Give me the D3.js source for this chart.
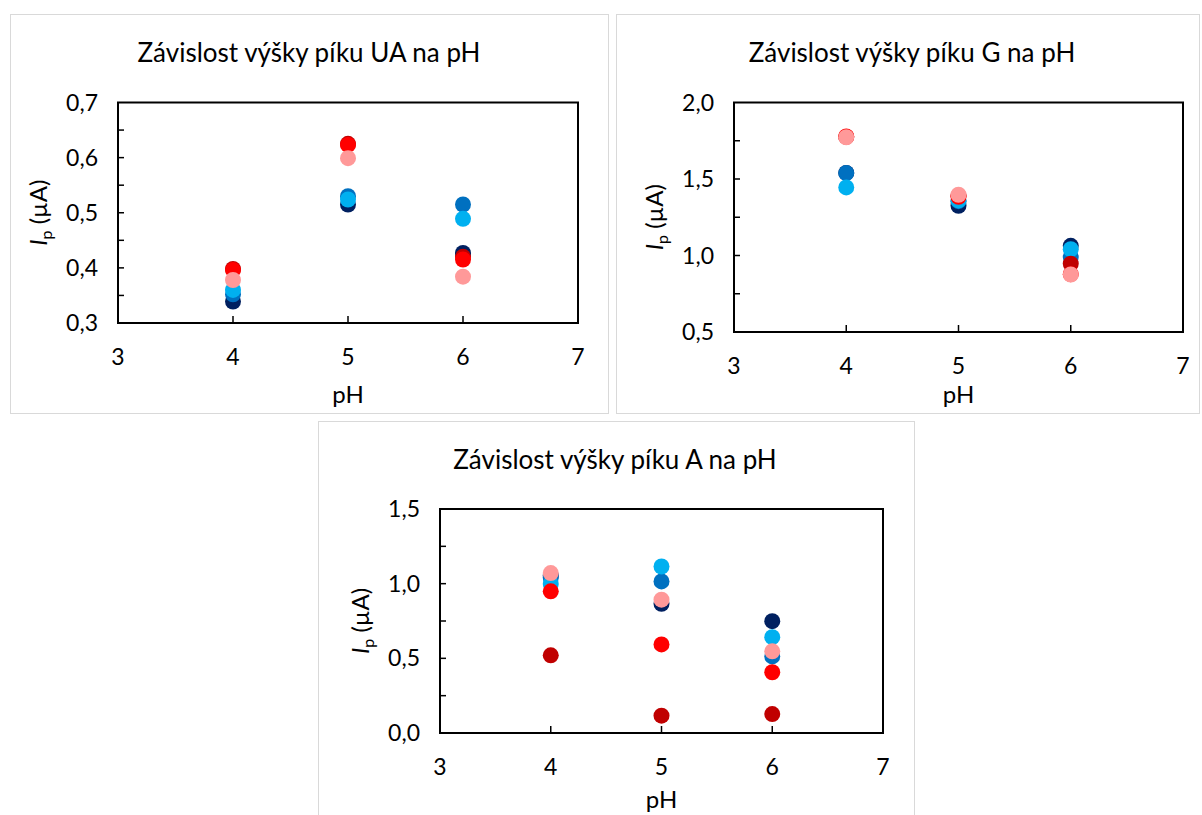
<!DOCTYPE html>
<html>
<head>
<meta charset="utf-8">
<script src="https://cdn.jsdelivr.net/npm/d3@7"></script>
<style>
  html, body { margin: 0; padding: 0; background: #fff; }
  svg { display: block; font-family: Lato, "Liberation Sans", sans-serif; }
</style>
</head>
<body>
<script>
// ---------- data ----------
const pH = [4, 5, 6];
const xTicks = [3, 4, 5, 6, 7];

const seriesNames = ["S1", "S2", "S3", "S4", "S5", "S6"];
const seriesColors = ["#002060", "#0070C0", "#00B0F0", "#C00000", "#FF0000", "#FF9999"];

// Závislost výšky píku UA na pH
const UA_s1 = [0.339, 0.515, 0.427];
const UA_s2 = [0.352, 0.530, 0.515];
const UA_s3 = [0.360, 0.524, 0.489];
const UA_s4 = [0.398, 0.625, 0.420];
const UA_s5 = [0.396, 0.623, 0.415];
const UA_s6 = [0.378, 0.599, 0.384];
const UA_yTicks = [0.3, 0.4, 0.5, 0.6, 0.7];

// Závislost výšky píku G na pH
const G_s1 = [1.540, 1.325, 1.063];
const G_s2 = [1.539, 1.355, 0.990];
const G_s3 = [1.445, 1.360, 1.041];
const G_s4 = [1.775, 1.390, 0.946];
const G_s5 = [1.778, 1.384, 0.878];
const G_s6 = [1.773, 1.397, 0.876];
const G_yTicks = [0.5, 1.0, 1.5, 2.0];

// Závislost výšky píku A na pH
const A_s1 = [1.053, 0.865, 0.749];
const A_s2 = [1.040, 1.015, 0.513];
const A_s3 = [0.998, 1.115, 0.642];
const A_s4 = [0.520, 0.116, 0.127];
const A_s5 = [0.949, 0.593, 0.407];
const A_s6 = [1.071, 0.893, 0.547];
const A_yTicks = [0.0, 0.5, 1.0, 1.5];

const charts = [
  { title: "Závislost výšky píku UA na pH", series: [UA_s1, UA_s2, UA_s3, UA_s4, UA_s5, UA_s6],
    yTicks: UA_yTicks, yMinorStep: 0.05,
    panel: { x: 10.5, y: 14.5, w: 598, h: 399 },
    plot: { x0: 118, x1: 578, y0: 102.5, y1: 323 },
    titleX: 309, titleY: 62, xLabY: 403 },
  { title: "Závislost výšky píku G na pH", series: [G_s1, G_s2, G_s3, G_s4, G_s5, G_s6],
    yTicks: G_yTicks, yMinorStep: 0.25,
    panel: { x: 616.5, y: 14.5, w: 583, h: 399 },
    plot: { x0: 734, x1: 1183, y0: 102.5, y1: 332 },
    titleX: 912, titleY: 62, xLabY: 403 },
  { title: "Závislost výšky píku A na pH", series: [A_s1, A_s2, A_s3, A_s4, A_s5, A_s6],
    yTicks: A_yTicks, yMinorStep: 0.25,
    panel: { x: 318.5, y: 421.5, w: 596, h: 400 },
    plot: { x0: 440, x1: 883, y0: 509, y1: 733 },
    titleX: 615, titleY: 469, xLabY: 808 }
];

const fmt = v => d3.format(".1f")(v).replace(".", ",");

const svg = d3.select("body").append("svg").attr("width", 1202).attr("height", 815);

charts.forEach(c => {
  const g = svg.append("g");
  g.append("rect").attr("x", c.panel.x).attr("y", c.panel.y)
    .attr("width", c.panel.w).attr("height", c.panel.h)
    .attr("fill", "#fff").attr("stroke", "#D9D9D9").attr("stroke-width", 1);

  const x = d3.scaleLinear().domain([3, 7]).range([c.plot.x0, c.plot.x1]);
  const yd = d3.extent(c.yTicks);
  const y = d3.scaleLinear().domain(yd).range([c.plot.y1, c.plot.y0]);

  // title
  g.append("text").attr("x", c.titleX).attr("y", c.titleY)
    .attr("text-anchor", "middle").attr("font-size", 26).attr("fill", "#000")
    .text(c.title);

  // minor y ticks (inside)
  const minor = d3.range(yd[0], yd[1] + 1e-9, c.yMinorStep).slice(1, -1);
  g.selectAll(".ymt").data(minor).join("line")
    .attr("x1", c.plot.x0).attr("x2", c.plot.x0 + 6)
    .attr("y1", d => y(d)).attr("y2", d => y(d))
    .attr("stroke", "#000").attr("stroke-width", 1.5);

  // x ticks (inside)
  g.selectAll(".xt").data(xTicks.slice(1, -1)).join("line")
    .attr("x1", d => x(d)).attr("x2", d => x(d))
    .attr("y1", c.plot.y1).attr("y2", c.plot.y1 - 7)
    .attr("stroke", "#000").attr("stroke-width", 1.5);

  // frame
  g.append("rect").attr("x", c.plot.x0).attr("y", c.plot.y0)
    .attr("width", c.plot.x1 - c.plot.x0).attr("height", c.plot.y1 - c.plot.y0)
    .attr("fill", "none").attr("stroke", "#000").attr("stroke-width", 2);

  // y tick labels
  g.selectAll(".yl").data(c.yTicks).join("text")
    .attr("x", c.plot.x0 - 20).attr("y", d => y(d)).attr("dy", "0.35em")
    .attr("text-anchor", "end").attr("font-size", 23).attr("fill", "#000")
    .text(fmt);

  // x tick labels
  g.selectAll(".xl").data(xTicks).join("text")
    .attr("x", d => x(d)).attr("y", c.plot.y1 + 42)
    .attr("text-anchor", "middle").attr("font-size", 23).attr("fill", "#000")
    .text(d => d);

  // x axis title
  g.append("text").attr("x", (c.plot.x0 + c.plot.x1) / 2).attr("y", c.xLabY)
    .attr("text-anchor", "middle").attr("font-size", 24).attr("fill", "#000")
    .text("pH");

  // y axis title
  const yt = g.append("text")
    .attr("transform", `translate(${c.plot.x0 - 71},${(c.plot.y0 + c.plot.y1) / 2}) rotate(-90)`)
    .attr("text-anchor", "middle").attr("font-size", 24).attr("fill", "#000");
  yt.append("tspan").attr("font-style", "italic").text("I");
  yt.append("tspan").attr("font-size", 16).attr("dy", 5).text("p");
  yt.append("tspan").attr("dy", -5).text(" (µA)");

  // points
  c.series.forEach((s, i) => {
    g.append("g").selectAll("circle").data(s).join("circle")
      .attr("cx", (d, j) => x(pH[j])).attr("cy", d => y(d))
      .attr("r", 8).attr("fill", seriesColors[i]);
  });
});
</script>
</body>
</html>
